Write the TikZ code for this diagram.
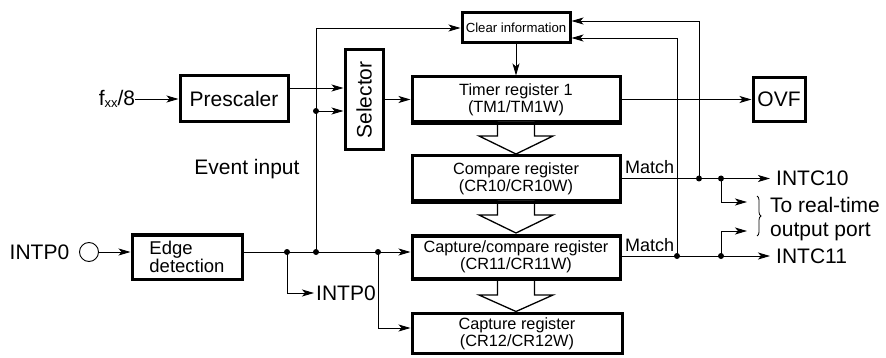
\documentclass[tikz,border=0pt]{standalone}
\usepackage{fontspec}
\setmainfont{Liberation Sans}
\usetikzlibrary{arrows.meta,calc,decorations.pathreplacing}
\begin{document}
\begin{tikzpicture}[x=1pt,y=-1pt,
  box/.style={draw=black,line width=3pt,inner sep=0pt,align=center,fill=white},
  big/.style={font=\fontsize{21}{23}\selectfont},
  mid/.style={font=\fontsize{16.3}{17}\selectfont},
  conn/.style={line width=0.9pt},
  arr/.style={conn,-{Stealth[length=12pt,width=7pt,inset=3pt]}},
  hollow/.style={draw=black,line width=1.3pt,fill=white,line join=miter},
  lbl/.style={inner sep=0pt}]
\useasboundingbox (0,0) rectangle (886,358);

% boxes
\node[box,big,minimum width=108pt,minimum height=46pt] (presc) at (234,99) {Prescaler};
\node[box,minimum width=38pt,minimum height=100pt] (sel) at (364,100) {};
\node[big,rotate=90,lbl] (selt) at (364,100) {Selector};
\node[box,font=\fontsize{13.2}{14}\selectfont,minimum width=108pt,minimum height=30pt] (clr) at (516,28) {Clear information};
\node[box,mid,minimum width=208pt,minimum height=45pt] (tm) at (516,99.5) {Timer register 1\\(TM1/TM1W)};
\node[box,big,minimum width=52pt,minimum height=44pt] (ovf) at (779,99.5) {OVF};
\node[box,mid,minimum width=208pt,minimum height=45pt] (cmp) at (516,178.5) {Compare register\\(CR10/CR10W)};
\node[box,mid,minimum width=208pt,minimum height=42pt] (cc) at (516,257) {Capture/compare register\\(CR11/CR11W)};
\node[box,mid,minimum width=210pt,minimum height=40pt] (cap) at (517,333.5) {Capture register\\(CR12/CR12W)};
\node[box,font=\fontsize{18.5}{18}\selectfont,minimum width=110pt,minimum height=44pt,align=left] (edge) at (187,257) {Edge\\detection};

% hollow transfer arrows
\draw[hollow] (497.5,122) -- (497.5,136) -- (479,136) -- (516,154) -- (553,136) -- (534.5,136) -- (534.5,122);
\draw[hollow] (497.5,201) -- (497.5,215) -- (479,215) -- (516,233) -- (553,215) -- (534.5,215) -- (534.5,201);
\draw[hollow] (497.5,278) -- (497.5,295) -- (479,295) -- (516,311.5) -- (553,295) -- (534.5,295) -- (534.5,278);
% redraw box borders over arrow stems
\draw[line width=3pt] (tm.south west) -- (tm.south east);
\draw[line width=3pt] (cmp.south west) -- (cmp.south east);
\draw[line width=3pt] (cc.south west) -- (cc.south east);

% texts
\node[big,lbl] (fxx) at (117,99) {f\raisebox{-1.5pt}{\fontsize{13}{13}\selectfont xx}/8};
\node[big,lbl] (evt) at (247,169) {Event input};
\node[big,lbl] (intp0a) at (39.5,252) {INTP0};
\node[draw=black,line width=0.9pt,circle,minimum size=19pt,inner sep=0pt] (pin) at (89,252) {};
\node[big,lbl,anchor=west] (intp0b) at (316,293) {INTP0};
\node[big,lbl,anchor=west] (intc10) at (776,178.5) {INTC10};
\node[big,lbl,anchor=west] (intc11) at (776,256) {INTC11};
\node[big,lbl,anchor=west,align=left,font=\fontsize{21}{24}\selectfont] (rt) at (770,219) {To real-time\\output port};
\node[lbl,font=\fontsize{18}{18}\selectfont,anchor=south west] (m1) at (625,174) {Match};
\node[lbl,font=\fontsize{18}{18}\selectfont,anchor=south west] (m2) at (625,251.5) {Match};

% coordinates
\coordinate (ovt) at (316,28);
\coordinate (j1) at (287,252);
\coordinate (j2) at (316,252);
\coordinate (j3) at (378,252);
\coordinate (ev) at (316,111);
\coordinate (d10a) at (699,178.5);
\coordinate (d10b) at (721,178.5);
\coordinate (d11a) at (677,256);
\coordinate (d11b) at (721,256);
\coordinate (e10) at (770,178.5);
\coordinate (e11) at (770,256);
\coordinate (rt1) at (747,202);
\coordinate (rt2) at (747,231);
\coordinate (ip) at (314,293);

% connectors
\draw[arr] (fxx.east) -- (presc.west);
\draw[arr] (presc.east |- 0,88) -- (sel.west |- 0,88);
\draw[arr] (ev) -- (sel.west |- ev);
\draw[arr] (sel.east |- tm.west) -- (tm.west);
\draw[conn] (j2) -- (ovt);
\draw[arr] (ovt) -- (clr.west |- ovt);
\draw[arr] (clr.south) -- (tm.north);
\draw[arr] (tm.east) -- (ovf.west);
\draw[arr] (cmp.east) -- (e10);
\draw[arr] (cc.east |- e11) -- (e11);
\draw[arr] (d10a) -- (d10a |- 0,21) -- (clr.east |- 0,21);
\draw[arr] (d11a) -- (d11a |- 0,38) -- (clr.east |- 0,38);
\draw[arr] (d10b) -- (d10b |- rt1) -- (rt1);
\draw[arr] (d11b) -- (d11b |- rt2) -- (rt2);
\draw[arr] (pin.east) -- (edge.west |- pin);
\draw[arr] (edge.east |- j1) -- (cc.west |- j1);
\draw[arr] (j1) -- (j1 |- ip) -- (ip);
\draw[arr] (j3) -- (j3 |- 0,328) -- (cap.west |- 0,328);
\draw[line width=0.8pt,decorate,decoration={brace,amplitude=4pt}] (757,196) -- (757,236);

% dots
\foreach \p in {ev,j1,j2,j3,d10a,d10b,d11a,d11b} \fill (\p) circle (3pt);
\end{tikzpicture}
\end{document}
